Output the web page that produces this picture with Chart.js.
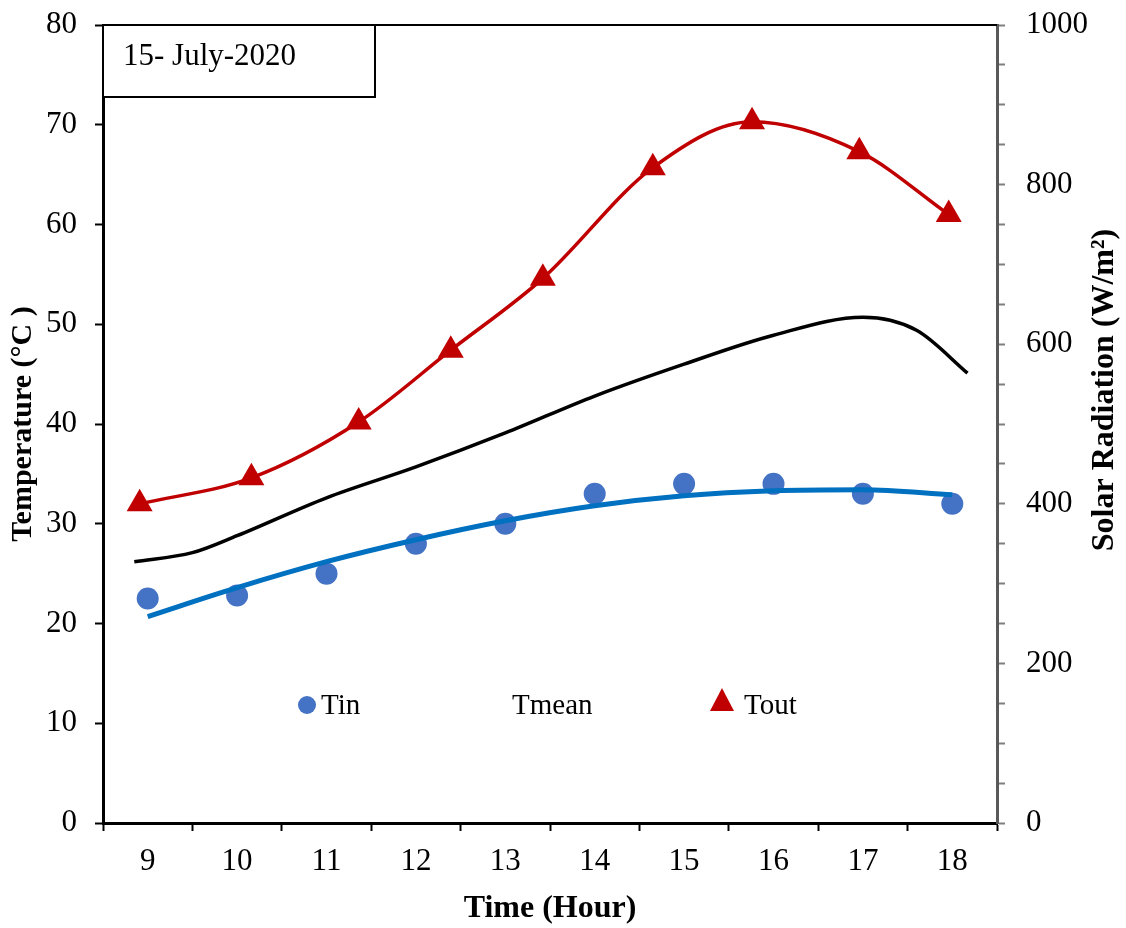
<!DOCTYPE html>
<html>
<head>
<meta charset="utf-8">
<title>Temperature and solar radiation, 15 July 2020</title>
<script src="https://cdn.jsdelivr.net/npm/chart.js@4.4.1/dist/chart.umd.min.js"></script>
<style>
  html, body { margin: 0; padding: 0; background: #fff; }
  #wrap { width: 1126px; height: 928px; position: relative; }
</style>
</head>
<body>
<div id="wrap"><canvas id="tempChart"></canvas></div>
<script>
// measured inside temperature (points) and its trend curve, hourly
const hours = [9, 10, 11, 12, 13, 14, 15, 16, 17, 18];
const tinValues = [22.5, 22.8, 25, 28, 30, 33, 34, 34, 33, 32];
const tinTrend = [20.7, 23.6, 26.2, 28.4, 30.3, 31.8, 32.8, 33.3, 33.4, 32.9];

// outside temperature, logged slightly off the full hour
const toutTimes = [8.91, 10.16, 11.36, 12.39, 13.42, 14.65, 15.76, 16.96, 17.96];
const toutValues = [32.0, 34.6, 40.2, 47.4, 54.6, 65.7, 70.3, 67.3, 61.0];

// mean temperature curve
const tmeanTimes = [8.85, 9.5, 10, 11, 12, 13, 14, 15, 16, 17, 17.6, 18.17];
const tmeanValues = [26.2, 27.1, 28.8, 32.6, 35.7, 39.1, 42.8, 46.0, 48.9, 50.7, 49.4, 45.1];

const dateLabel = "15- July-2020";
const legendLabels = ["Tin", "Tmean", "Tout"];

const FONT = "'Liberation Serif', 'Times New Roman', serif";
Chart.defaults.font.family = FONT;
Chart.defaults.color = "#000";

const toXY = (xs, ys) => xs.map((x, i) => ({ x: x, y: ys[i] }));

// fixed axis sizes so the plot area sits where the original has it
const fixWidth = (w) => (scale) => {
  scale.width = w;
  scale.paddingTop = 0;
  scale.paddingBottom = 0;
};

const decorations = {
  id: "decorations",
  afterDatasetsDraw(chart) {
    const { ctx, chartArea } = chart;
    ctx.save();

    // top frame line
    ctx.strokeStyle = "#000";
    ctx.lineWidth = 2;
    ctx.beginPath();
    ctx.moveTo(chartArea.left, chartArea.top);
    ctx.lineTo(chartArea.right, chartArea.top);
    ctx.stroke();

    // date box
    ctx.fillStyle = "#fff";
    ctx.fillRect(chartArea.left, chartArea.top, 272, 72);
    ctx.strokeRect(chartArea.left, chartArea.top, 272, 72);
    ctx.fillStyle = "#000";
    ctx.font = "31px " + FONT;
    ctx.textBaseline = "alphabetic";
    ctx.textAlign = "left";
    ctx.fillText(dateLabel, chartArea.left + 20, chartArea.top + 40);

    // legend inside the plot
    const ly = 705;
    ctx.font = "29px " + FONT;
    ctx.textBaseline = "middle";
    ctx.fillStyle = "#4472C4";
    ctx.beginPath();
    ctx.arc(307, ly, 9, 0, Math.PI * 2);
    ctx.fill();
    ctx.fillStyle = "#000";
    ctx.fillText(legendLabels[0], 321, ly + 1);
    ctx.fillText(legendLabels[1], 512, ly + 1);
    ctx.fillStyle = "#C00000";
    ctx.beginPath();
    ctx.moveTo(722, ly - 17);
    ctx.lineTo(734, ly + 6);
    ctx.lineTo(710, ly + 6);
    ctx.closePath();
    ctx.fill();
    ctx.fillStyle = "#000";
    ctx.fillText(legendLabels[2], 744, ly + 1);

    // right axis title, reading upwards
    ctx.translate(1105, 390);
    ctx.rotate(-Math.PI / 2);
    ctx.font = "bold 32px " + FONT;
    ctx.textAlign = "center";
    ctx.textBaseline = "middle";
    ctx.fillText("Solar Radiation (W/m\u00B2)", 0, 0);
    ctx.restore();
  },
};

const ctx = document.getElementById("tempChart").getContext("2d");

new Chart(ctx, {
  type: "line",
  data: {
    datasets: [
      {
        label: "Tin trend",
        data: toXY(hours, tinTrend),
        borderColor: "#0070C0",
        borderWidth: 5,
        pointRadius: 0,
        cubicInterpolationMode: "monotone",
        yAxisID: "y",
      },
      {
        label: "Tin",
        type: "scatter",
        data: toXY(hours, tinValues),
        showLine: false,
        pointStyle: "circle",
        pointRadius: 11,
        pointBackgroundColor: "#4472C4",
        pointBorderColor: "#4472C4",
        pointBorderWidth: 0,
        yAxisID: "y",
      },
      {
        label: "Tmean",
        data: toXY(tmeanTimes, tmeanValues),
        borderColor: "#000000",
        borderWidth: 3.5,
        pointRadius: 0,
        cubicInterpolationMode: "monotone",
        yAxisID: "y",
      },
      {
        label: "Tout",
        data: toXY(toutTimes, toutValues),
        borderColor: "#C00000",
        borderWidth: 3.5,
        cubicInterpolationMode: "monotone",
        pointStyle: "triangle",
        pointRadius: 15,
        pointBackgroundColor: "#C00000",
        pointBorderColor: "#C00000",
        pointBorderWidth: 0,
        yAxisID: "y",
      },
    ],
  },
  options: {
    responsive: true,
    maintainAspectRatio: false,
    animation: false,
    events: [],
    layout: {
      padding: { top: 25, left: 0, right: 0, bottom: 0 },
    },
    plugins: {
      legend: { display: false },
      tooltip: { enabled: false },
    },
    scales: {
      x: {
        type: "linear",
        min: 8.5,
        max: 18.5,
        afterFit: (scale) => {
          scale.height = 105;
          scale.paddingLeft = 0;
          scale.paddingRight = 0;
        },
        border: { color: "#000", width: 3 },
        grid: {
          drawOnChartArea: false,
          tickLength: 8,
          tickWidth: 2,
          tickColor: (c) =>
            c.tick && Number.isInteger(c.tick.value) ? "rgba(0,0,0,0)" : "#000",
        },
        ticks: {
          stepSize: 0.5,
          autoSkip: false,
          maxRotation: 0,
          padding: 12,
          font: { size: 31 },
          callback: (v) => (Number.isInteger(v) ? String(v) : ""),
        },
        title: {
          display: true,
          text: "Time (Hour)",
          font: { size: 32, weight: "bold" },
          padding: { top: 0, bottom: 0 },
        },
      },
      y: {
        position: "left",
        min: 0,
        max: 80,
        afterFit: fixWidth(103),
        border: { color: "#000", width: 3 },
        grid: {
          drawOnChartArea: false,
          tickLength: 8,
          tickWidth: 2,
          tickColor: "#000",
        },
        ticks: {
          stepSize: 10,
          padding: 18,
          font: { size: 31 },
        },
        title: {
          display: true,
          text: "Temperature (\u00B0C )",
          font: { size: 30, weight: "bold" },
          padding: { top: 5, bottom: 0 },
        },
      },
      y1: {
        position: "right",
        min: 0,
        max: 1000,
        afterFit: fixWidth(129),
        border: { color: "#595959", width: 3 },
        grid: {
          drawOnChartArea: false,
          tickLength: 8,
          tickWidth: 2,
          tickColor: "#7f7f7f",
        },
        ticks: {
          stepSize: 50,
          autoSkip: false,
          padding: 21,
          font: { size: 31 },
          callback: (v) => (v % 200 === 0 ? String(v) : ""),
        },
      },
    },
  },
  plugins: [decorations],
});
</script>
</body>
</html>
